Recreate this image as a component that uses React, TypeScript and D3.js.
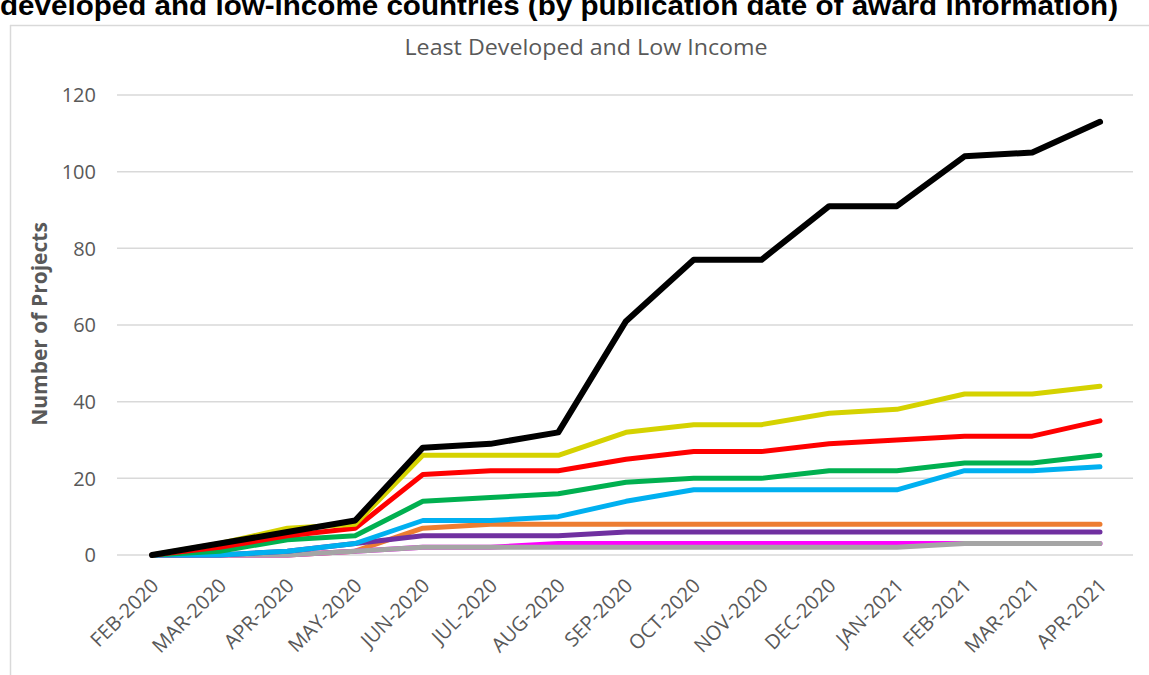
import React from "react";
import * as d3 from "d3";

const months = ["FEB-2020","MAR-2020","APR-2020","MAY-2020","JUN-2020","JUL-2020","AUG-2020","SEP-2020","OCT-2020","NOV-2020","DEC-2020","JAN-2021","FEB-2021","MAR-2021","APR-2021"];
const yTicks = [0, 20, 40, 60, 80, 100, 120];

const orangeVals = [0,0,0,1,7,8,8,8,8,8,8,8,8,8,8];
const magentaVals = [0,0,0,1,2,2,3,3,3,3,3,3,3,3,3];
const grayVals = [0,0,0,1,2,2,2,2,2,2,2,2,3,3,3];
const purpleVals = [0,0,1,3,5,5,5,6,6,6,6,6,6,6,6];
const blueVals = [0,0,1,3,9,9,10,14,17,17,17,17,22,22,23];
const greenVals = [0,1,4,5,14,15,16,19,20,20,22,22,24,24,26];
const redVals = [0,2,5,7,21,22,22,25,27,27,29,30,31,31,35];
const yellowVals = [0,3,7,8,26,26,26,32,34,34,37,38,42,42,44];
const blackVals = [0,3,6,9,28,29,32,61,77,77,91,91,104,105,113];

const series = [
  { name: "orange", values: orangeVals, color: "#ED7D31", w: 5 },
  { name: "magenta", values: magentaVals, color: "#FF00FF", w: 5 },
  { name: "gray", values: grayVals, color: "#A5A5A5", w: 5 },
  { name: "purple", values: purpleVals, color: "#7030A0", w: 5 },
  { name: "blue", values: blueVals, color: "#00B0F0", w: 5 },
  { name: "green", values: greenVals, color: "#00B050", w: 5 },
  { name: "red", values: redVals, color: "#FF0000", w: 5 },
  { name: "yellow", values: yellowVals, color: "#D5D200", w: 5 },
  { name: "black", values: blackVals, color: "#000000", w: 6 },
];

export default function App() {
  const W = 1149, H = 675;
  const x = d3.scalePoint<string>().domain(months).range([152, 1100]);
  const y = d3.scaleLinear().domain([0, 120]).range([555, 95]);
  const line = d3.line<number>().x((_, i) => x(months[i]) as number).y(d => y(d));
  const font = "'Open Sans', 'Noto Sans', sans-serif";
  return (
    <svg width={W} height={H} style={{ position: "absolute", left: 0, top: 0, background: "#fff" }}>
      <rect x={0} y={0} width={W} height={H} fill="#fff" />
      <text x={0} y={15} fontFamily="'Liberation Sans', Arial, sans-serif" fontWeight="bold" fontSize={28}
        textLength={1118} lengthAdjust="spacingAndGlyphs" fill="#000">
        developed and low-income countries (by publication date of award information)
      </text>
      <line x1={10.5} y1={25} x2={10.5} y2={H} stroke="#d9d9d9" strokeWidth={1.5} />
      <line x1={10} y1={25.5} x2={W} y2={25.5} stroke="#d9d9d9" strokeWidth={1.5} />
      <text x={586} y={55} textAnchor="middle" fontFamily={font} fontSize={21.5} textLength={363}
        lengthAdjust="spacingAndGlyphs" fill="#595959">
        Least Developed and Low Income
      </text>
      {yTicks.map(t => (
        <g key={t}>
          <line x1={117} x2={1133} y1={y(t)} y2={y(t)} stroke="#d9d9d9" strokeWidth={1.5} />
          <text x={96} y={y(t)} dy="0.36em" textAnchor="end" fontFamily={font} fontSize={20} fill="#595959">{t}</text>
        </g>
      ))}
      <text transform={`translate(47,324) rotate(-90)`} textAnchor="middle" fontFamily={font} fontWeight="bold" fontSize={21} fill="#595959">
        Number of Projects
      </text>
      {months.map(m => (
        <text key={m} transform={`translate(${(x(m) as number) + 3},${582}) rotate(-45)`} textAnchor="end" dy="0.35em"
          fontFamily={font} fontSize={20} fill="#595959">{m}</text>
      ))}
      {series.map(s => (
        <path key={s.name} d={line(s.values) || ""} fill="none" stroke={s.color} strokeWidth={s.w}
          strokeLinejoin="round" strokeLinecap="round" />
      ))}
    </svg>
  );
}
